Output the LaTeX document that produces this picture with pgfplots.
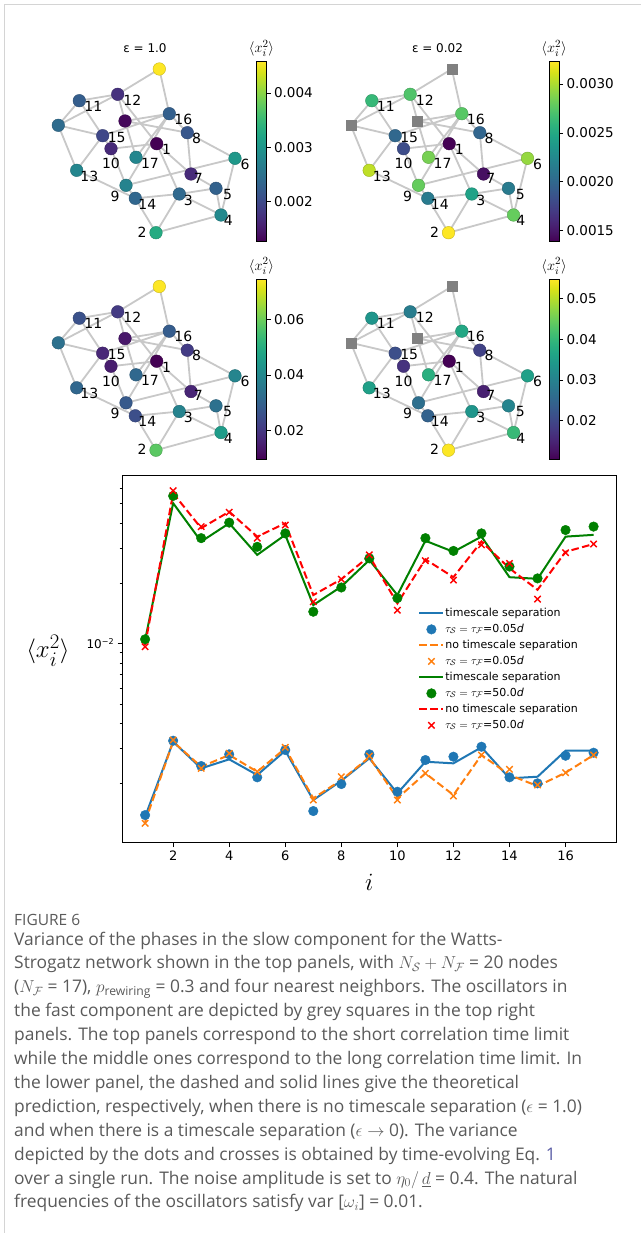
\documentclass[border=0pt]{standalone}
\usepackage{fontspec}
\usepackage{amsmath}
\usepackage{pgfplots}
\pgfplotsset{compat=1.18}
\usepackage{pgfplotstable}
\setmainfont{Open Sans}
\newfontfamily\dejavu{DejaVu Sans}
\definecolor{edgegray}{HTML}{C8C8C8}
\definecolor{sqgray}{HTML}{808080}
\definecolor{mplblue}{HTML}{1F77B4}
\definecolor{mplorange}{HTML}{FF7F0E}
\definecolor{mplgreen}{HTML}{008000}
\definecolor{mplred}{HTML}{FF0000}
\definecolor{capgray}{HTML}{5A5A5A}
\definecolor{linkblue}{HTML}{5B5EA6}
\definecolor{framegray}{HTML}{D4D4D4}

% slow-component nodes: position (panel pixels) and variance shown in each panel
\pgfplotstableread{
id x y v1 v2 v3 v4
1 156.7 143.7 0.001265 0.001391 0.00966 0.01052
2 156.0 232.7 0.003300 0.003230 0.0582 0.0548
3 179.3 194.0 0.002382 0.002446 0.0385 0.0337
4 221.0 215.0 0.002831 0.002799 0.0454 0.0403
5 216.0 188.3 0.002291 0.002148 0.0337 0.0305
6 235.0 158.3 0.003034 0.002941 0.0392 0.0356
7 191.0 174.0 0.001654 0.001457 0.0162 0.01445
8 187.3 132.7 0.002163 0.001988 0.0210 0.0191
9 126.0 185.3 0.002745 0.002799 0.0278 0.0267
10 111.0 148.7 0.001654 0.001820 0.0147 0.0169
11 79.3 100.7 0.002249 0.002621 0.0260 0.0337
12 117.7 94.3 0.001732 0.002723 0.0208 0.0291
13 76.7 170.3 0.002777 0.003055 0.0312 0.0356
14 135.3 198.3 0.002355 0.002148 0.0252 0.0243
15 102.7 135.7 0.001966 0.002004 0.0167 0.0212
16 169.3 113.7 0.002265 0.002754 0.0285 0.0370
17 136.0 157.3 0.002777 0.002851 0.0315 0.0385
}\slowtab

% fast-component nodes
\pgfplotstableread{
id x y v1 v3
T 159.3 69.0 0.00458 0.0747
L 58.3 125.3 0.00242 0.0337
P 125.0 121.0 0.00133 0.0136
}\fasttab

\pgfplotstableread{
x y lab
166.7 149.4 1
142.0 232.0 2
188.3 200.0 3
228.3 220.7 4
227.7 194.0 5
245.0 164.0 6
198.3 178.3 7
196.6 138.4 8
115.0 196.3 9
111.0 163.7 10
93.3 106.0 11
132.3 100.0 12
89.4 176.0 13
147.3 204.0 14
116.7 137.4 15
183.3 119.4 16
150.0 163.3 17
}\labtab

\pgfplotstableread{
x y
159.3 69.0
117.7 94.3
nan nan
159.3 69.0
169.3 113.7
nan nan
79.3 100.7
117.7 94.3
nan nan
79.3 100.7
58.3 125.3
nan nan
79.3 100.7
102.7 135.7
nan nan
117.7 94.3
58.3 125.3
nan nan
117.7 94.3
125.0 121.0
nan nan
117.7 94.3
156.7 143.7
nan nan
58.3 125.3
102.7 135.7
nan nan
58.3 125.3
76.7 170.3
nan nan
125.0 121.0
169.3 113.7
nan nan
125.0 121.0
187.3 132.7
nan nan
125.0 121.0
136.0 157.3
nan nan
102.7 135.7
111.0 148.7
nan nan
102.7 135.7
76.7 170.3
nan nan
102.7 135.7
169.3 113.7
nan nan
111.0 148.7
156.7 143.7
nan nan
111.0 148.7
126.0 185.3
nan nan
169.3 113.7
136.0 157.3
nan nan
169.3 113.7
126.0 185.3
nan nan
169.3 113.7
187.3 132.7
nan nan
156.7 143.7
191.0 174.0
nan nan
156.7 143.7
179.3 194.0
nan nan
187.3 132.7
191.0 174.0
nan nan
187.3 132.7
235.0 158.3
nan nan
235.0 158.3
126.0 185.3
nan nan
235.0 158.3
221.0 215.0
nan nan
191.0 174.0
216.0 188.3
nan nan
216.0 188.3
179.3 194.0
nan nan
216.0 188.3
221.0 215.0
nan nan
179.3 194.0
135.3 198.3
nan nan
179.3 194.0
156.0 232.7
nan nan
179.3 194.0
221.0 215.0
nan nan
135.3 198.3
126.0 185.3
nan nan
135.3 198.3
156.0 232.7
nan nan
76.7 170.3
135.3 198.3
nan nan
156.0 232.7
221.0 215.0
}\edgetab

\pgfplotsset{
  netaxis/.style={anchor=north west, scale only axis, width=210pt, height=190pt,
    xmin=40, xmax=250, ymin=55, ymax=245, y dir=reverse, hide axis, clip=false,
    colormap/viridis,
    every axis title/.style={at={(0.5,1)}, anchor=base, yshift=2pt, font=\dejavu\fontsize{12}{12}\selectfont},
    colorbar, colorbar shift/.style={xshift=6.5pt, yshift=-6.5pt},
    colorbar style={at={(parent axis.north east)}, anchor=north west,
      scale only axis, width=10pt, height=180pt,
      y dir=normal, hide axis=false, clip=true, scaled y ticks=false,
      ytick pos=right, yticklabel pos=right, tick align=outside, major tick length=4pt,
      tick style={black, line width=0.8pt}, axis line style={black, line width=0.8pt},
      yticklabel style={font=\dejavu\fontsize{13.5}{13.5}\selectfont},
      title={$\langle x_i^2\rangle$},
      every axis title/.style={at={(0.5,1)}, anchor=south, yshift=1pt, font=\fontsize{15}{15}\selectfont}}},
  edgestyle/.style={color=edgegray, line width=1.8pt, unbounded coords=jump, mark=none},
  nodestyle/.style={scatter, only marks, mark=*, mark size=6.3pt, scatter src=explicit},
  sqstyle/.style={only marks, mark=square*, mark size=5pt, color=sqgray},
  labstyle/.style={only marks, mark=none, nodes near coords, point meta=explicit symbolic,
    every node near coord/.style={anchor=center, inner sep=0pt, font=\dejavu\fontsize{14}{14}\selectfont, text=black}},
}

\begin{document}
\begin{tikzpicture}
\fill[white] (0pt,0pt) rectangle (641pt,-1233pt);
\path[use as bounding box] (0pt,0pt) rectangle (641pt,-1233pt);
\draw[framegray, line width=1pt] (4pt,-1233pt) -- (4pt,-4.5pt) -- (641pt,-4.5pt);

% ---- panel 1
\begin{axis}[netaxis, at={(40pt,-55pt)}, title={ε = 1.0},
  point meta min=0.001265, point meta max=0.00458,
  colorbar style={ytick={0.002,0.003,0.004}, yticklabels={0.002,0.003,0.004}}]
\addplot[edgestyle] table[x=x,y=y] {\edgetab};
\addplot[nodestyle] table[x=x,y=y,meta=v1] {\fasttab};
\addplot[nodestyle] table[x=x,y=y,meta=v1] {\slowtab};
\addplot[labstyle] table[x=x,y=y,meta=lab] {\labtab};
\end{axis}

% ---- panel 2
\begin{axis}[netaxis, at={(332.5pt,-55pt)}, title={ε = 0.02},
  point meta min=0.00139, point meta max=0.00323,
  colorbar style={ytick={0.0015,0.002,0.0025,0.003}, yticklabels={0.0015,0.0020,0.0025,0.0030}}]
\addplot[edgestyle] table[x=x,y=y] {\edgetab};
\addplot[sqstyle] table[x=x,y=y] {\fasttab};
\addplot[nodestyle] table[x=x,y=y,meta=v2] {\slowtab};
\addplot[labstyle] table[x=x,y=y,meta=lab] {\labtab};
\end{axis}

% ---- panel 3
\begin{axis}[netaxis, at={(40pt,-272.5pt)},
  point meta min=0.00966, point meta max=0.0747,
  colorbar style={ytick={0.02,0.04,0.06}, yticklabels={0.02,0.04,0.06}}]
\addplot[edgestyle] table[x=x,y=y] {\edgetab};
\addplot[nodestyle] table[x=x,y=y,meta=v3] {\fasttab};
\addplot[nodestyle] table[x=x,y=y,meta=v3] {\slowtab};
\addplot[labstyle] table[x=x,y=y,meta=lab] {\labtab};
\end{axis}

% ---- panel 4
\begin{axis}[netaxis, at={(332.5pt,-272.5pt)},
  point meta min=0.01052, point meta max=0.0549,
  colorbar style={ytick={0.02,0.03,0.04,0.05}, yticklabels={0.02,0.03,0.04,0.05}}]
\addplot[edgestyle] table[x=x,y=y] {\edgetab};
\addplot[sqstyle] table[x=x,y=y] {\fasttab};
\addplot[nodestyle] table[x=x,y=y,meta=v4] {\slowtab};
\addplot[labstyle] table[x=x,y=y,meta=lab] {\labtab};
\end{axis}

% ---- lower panel
\begin{axis}[at={(122.7pt,-475pt)}, anchor=north west, scale only axis,
  width=493.3pt, height=367pt, xmin=0.2, xmax=17.8,
  ymode=log, ymin=0.00102, ymax=0.0697,
  xtick={2,4,...,16}, ytick={0.01}, yticklabels={10\textsuperscript{−2}},
  minor ytick={0.002,0.003,0.004,0.005,0.006,0.007,0.008,0.009,0.02,0.03,0.04,0.05,0.06},
  tick pos=left, tick align=outside, major tick length=5pt, minor tick length=3pt,
  tick style={black, line width=0.8pt}, axis line style={line width=0.8pt},
  /pgf/number format/assume math mode=true,
  xticklabel style={font=\dejavu\fontsize{13}{13}\selectfont},
  yticklabel style={font=\dejavu\fontsize{12}{12}\selectfont},
  xlabel={$i$}, ylabel={$\langle x_i^2\rangle$},
  every axis x label/.style={at={(rel axis cs:0.5,0)}, anchor=base, yshift=-48pt, font=\fontsize{28}{28}\selectfont},
  every axis y label/.style={at={(rel axis cs:0,0.5204)}, anchor=east, xshift=-49.7pt, font=\fontsize{28}{28}\selectfont},
  legend style={at={(rel axis cs:0.593,0.646)}, anchor=north west, draw=none, fill=none,
    font=\dejavu\fontsize{11}{11}\selectfont, row sep=3.5pt,
    nodes={inner sep=1pt, text height=8pt, text depth=2.5pt}},
  legend cell align=left,
  legend image code/.code={\draw[mark repeat=2,mark phase=2,#1] plot coordinates {(0pt,0pt) (12pt,0pt) (24pt,0pt)};},
]
\addplot[mplblue, line width=2pt] coordinates {(1,0.001365)(2,0.003236)(3,0.002382)(4,0.002642)(5,0.002206)(6,0.002917)(7,0.001654)(8,0.002065)(9,0.002673)(10,0.001786)(11,0.002570)(12,0.002523)(13,0.003034)(14,0.002123)(15,0.002163)(16,0.002917)(17,0.002917)};
\addlegendentry{timescale separation}
\addplot[mplblue, only marks, mark=*, mark size=4.8pt] coordinates {(1,0.001391)(2,0.003273)(3,0.002446)(4,0.002799)(5,0.002148)(6,0.002941)(7,0.001457)(8,0.001988)(9,0.002799)(10,0.001820)(11,0.002621)(12,0.002723)(13,0.003055)(14,0.002148)(15,0.002004)(16,0.002754)(17,0.002851)};
\addlegendentry{$\tau_{\mathcal{S}}=\tau_{\mathcal{F}}$=0.05\textit{d}}
\addplot[mplorange, line width=2pt, dash pattern=on 7.5pt off 3.5pt] coordinates {(1,0.001288)(2,0.003236)(3,0.002427)(4,0.002777)(5,0.002291)(6,0.002999)(7,0.001687)(8,0.002082)(9,0.002704)(10,0.001687)(11,0.002249)(12,0.001752)(13,0.002777)(14,0.002206)(15,0.001943)(16,0.002265)(17,0.002777)};
\addlegendentry{no timescale separation}
\addplot[mplorange, only marks, mark=x, mark size=4.5pt, line width=1.4pt] coordinates {(1,0.001265)(2,0.003300)(3,0.002382)(4,0.002831)(5,0.002291)(6,0.003034)(7,0.001654)(8,0.002163)(9,0.002745)(10,0.001654)(11,0.002249)(12,0.001732)(13,0.002777)(14,0.002355)(15,0.001966)(16,0.002265)(17,0.002777)};
\addlegendentry{$\tau_{\mathcal{S}}=\tau_{\mathcal{F}}$=0.05\textit{d}}
\addplot[mplgreen, line width=2pt] coordinates {(1,0.01043)(2,0.0504)(3,0.0324)(4,0.0400)(5,0.0278)(6,0.0350)(7,0.0156)(8,0.0193)(9,0.0262)(10,0.0175)(11,0.0327)(12,0.0288)(13,0.0343)(14,0.0215)(15,0.0211)(16,0.0343)(17,0.0350)};
\addlegendentry{timescale separation}
\addplot[mplgreen, only marks, mark=*, mark size=4.8pt] coordinates {(1,0.01052)(2,0.0548)(3,0.0337)(4,0.0403)(5,0.0305)(6,0.0356)(7,0.01445)(8,0.0191)(9,0.0267)(10,0.0169)(11,0.0337)(12,0.0291)(13,0.0356)(14,0.0243)(15,0.0212)(16,0.0370)(17,0.0385)};
\addlegendentry{$\tau_{\mathcal{S}}=\tau_{\mathcal{F}}$=50.0\textit{d}}
\addplot[mplred, line width=2pt, dash pattern=on 7.5pt off 3.5pt] coordinates {(1,0.00985)(2,0.0565)(3,0.0378)(4,0.0457)(5,0.0343)(6,0.0400)(7,0.0175)(8,0.0210)(9,0.0274)(10,0.0159)(11,0.0264)(12,0.0215)(13,0.0324)(14,0.0238)(15,0.0186)(16,0.0288)(17,0.0315)};
\addlegendentry{no timescale separation}
\addplot[mplred, only marks, mark=x, mark size=4.5pt, line width=1.4pt] coordinates {(1,0.00966)(2,0.0582)(3,0.0385)(4,0.0454)(5,0.0337)(6,0.0392)(7,0.0162)(8,0.0210)(9,0.0278)(10,0.0147)(11,0.0260)(12,0.0208)(13,0.0312)(14,0.0252)(15,0.0167)(16,0.0285)(17,0.0315)};
\addlegendentry{$\tau_{\mathcal{S}}=\tau_{\mathcal{F}}$=50.0\textit{d}}
\end{axis}

% ---- caption
\begin{scope}[every node/.style={anchor=base west, inner sep=0pt, text=capgray, font=\fontsize{17.4}{17.4}\selectfont}]
\node at (14pt,-925.5pt) {\fontsize{15.5}{15.5}\selectfont FIGURE 6};
\node at (14pt,-945pt) {Variance of the phases in the slow component for the Watts-};
\node at (14pt,-968.9pt) {Strogatz network shown in the top panels, with $N_{\mathcal{S}}+N_{\mathcal{F}}$ = 20 nodes};
\node at (14pt,-992.8pt) {($N_{\mathcal{F}}$ = 17), $p_{\text{rewiring}}$ = 0.3 and four nearest neighbors. The oscillators in};
\node at (14pt,-1016.7pt) {the fast component are depicted by grey squares in the top right};
\node at (14pt,-1040.6pt) {panels. The top panels correspond to the short correlation time limit};
\node at (14pt,-1064.5pt) {while the middle ones correspond to the long correlation time limit. In};
\node at (14pt,-1088.4pt) {the lower panel, the dashed and solid lines give the theoretical};
\node at (14pt,-1112.3pt) {prediction, respectively, when there is no timescale separation ($\epsilon$ = 1.0)};
\node at (14pt,-1136.2pt) {and when there is a timescale separation ($\epsilon\rightarrow$ 0). The variance};
\node at (14pt,-1160.1pt) {depicted by the dots and crosses is obtained by time-evolving Eq. {\color{linkblue}1}};
\node at (14pt,-1184pt) {over a single run. The noise amplitude is set to $\eta_0/\,\underline{d}$ = 0.4. The natural};
\node at (14pt,-1207.9pt) {frequencies of the oscillators satisfy var [$\omega_i$] = 0.01.};
\end{scope}
\end{tikzpicture}
\end{document}
